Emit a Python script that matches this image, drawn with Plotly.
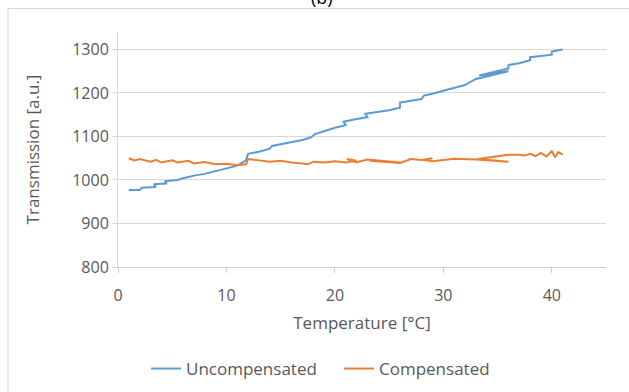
import plotly.graph_objects as go

# Uncompensated series (temperature, transmission)
unc_temp = [1.0, 2.0, 2.2, 3.5, 3.3, 4.5, 4.3, 5.5, 6.0, 7.0, 8.0, 9.0, 10.0, 11.0, 11.8, 12.0,
            13.0, 14.0, 14.2, 15.0, 16.0, 17.0, 17.8, 18.2, 19.0, 20.0, 21.0, 20.8, 22.0, 23.0,
            22.8, 24.0, 25.0, 26.0, 26.0, 27.0, 28.0, 28.2, 29.0, 30.0, 31.0, 32.0, 33.0, 36.0,
            33.3, 36.0, 36.0, 37.0, 38.0, 38.0, 39.0, 40.0, 40.0, 41.0]
unc_vals = [977, 977, 982, 984, 990, 992, 997, 1000, 1004, 1010, 1014, 1020, 1026, 1033, 1045, 1060,
            1065, 1072, 1078, 1082, 1088, 1092, 1098, 1106, 1112, 1120, 1126, 1134, 1140, 1144,
            1152, 1156, 1160, 1166, 1178, 1182, 1186, 1194, 1198, 1205, 1212, 1218, 1232, 1250,
            1240, 1256, 1264, 1268, 1275, 1282, 1285, 1288, 1295, 1300]

# Compensated series
comp_temp = [1.0, 1.5, 2.0, 3.0, 3.5, 4.0, 5.0, 5.5, 6.5, 7.0, 8.0, 9.0, 10.0, 11.0, 11.8, 12.0,
             13.0, 14.0, 15.0, 16.0, 17.0, 17.5, 18.0, 19.0, 20.0, 21.0, 22.0, 21.1, 22.0, 23.0,
             26.0, 23.2, 26.0, 27.0, 28.0, 29.0, 28.2, 29.0, 31.0, 33.0, 36.0, 33.2, 36.0, 37.0,
             37.5, 38.0, 38.5, 39.0, 39.5, 40.0, 40.3, 40.6, 41.0]
comp_vals = [1050, 1045, 1048, 1042, 1046, 1040, 1045, 1040, 1044, 1038, 1041, 1036, 1037, 1034, 1036, 1048,
             1045, 1042, 1044, 1040, 1038, 1036, 1042, 1040, 1043, 1040, 1044, 1048, 1041, 1047,
             1040, 1044, 1039, 1048, 1046, 1050, 1046, 1043, 1049, 1047, 1042, 1048, 1058, 1058,
             1056, 1060, 1055, 1062, 1054, 1066, 1052, 1064, 1058]

x_ticks = [0, 10, 20, 30, 40]
y_ticks = [800, 900, 1000, 1100, 1200, 1300]

blue = "#5B9BD5"
orange = "#ED7D31"
grey_txt = "#595959"
font = "Open Sans"

fig = go.Figure()
fig.add_trace(go.Scatter(x=unc_temp, y=unc_vals, mode="lines", name="Uncompensated",
                         line=dict(color=blue, width=2)))
fig.add_trace(go.Scatter(x=comp_temp, y=comp_vals, mode="lines", name="Compensated",
                         line=dict(color=orange, width=2)))

fig.update_layout(
    width=629, height=392,
    margin=dict(l=118, r=23, t=32, b=125),
    paper_bgcolor="white", plot_bgcolor="white",
    font=dict(family=font, color=grey_txt, size=16),
    showlegend=True,
    legend=dict(orientation="h", xref="container", yref="container",
                x=146 / 629, y=1 - 369 / 392, xanchor="left", yanchor="middle",
                font=dict(size=17, color=grey_txt), itemwidth=30, entrywidth=148,
                tracegroupgap=0),
    xaxis=dict(range=[0, 45], tickvals=x_ticks, showgrid=False, automargin=False,
               showline=True, linecolor="#D0D0D0", linewidth=1,
               ticks="outside", ticklen=5, tickcolor="#D0D0D0",
               ticklabelstandoff=9,
               tickfont=dict(size=16, color=grey_txt), zeroline=False,
               title=dict(text="Temperature [°C]", font=dict(size=17, color=grey_txt), standoff=11)),
    yaxis=dict(range=[800, 1340], tickvals=y_ticks, automargin=False,
               showgrid=True, gridcolor="#D9D9D9", gridwidth=1,
               showline=True, linecolor="#D9D9D9", linewidth=1,
               ticks="outside", ticklen=5, tickcolor="#D9D9D9",
               tickfont=dict(size=16, color=grey_txt), zeroline=False,
               title=dict(text="Transmission [a.u.]", font=dict(size=17, color=grey_txt), standoff=28)),
)

# chart border (Excel chart area)
fig.add_shape(type="rect", xref="paper", yref="paper",
              x0=-0.2254, x1=1.07, y0=-0.6, y1=1.100,
              line=dict(color="#D9D9D9", width=1), layer="below")

# partially visible title
fig.add_annotation(text="(b)", xref="paper", yref="paper", x=(322 - 118) / 488, y=1.151,
                   xanchor="center", yanchor="middle", showarrow=False,
                   font=dict(size=18, color="#000000", family=font))

fig.write_html("out.html")
